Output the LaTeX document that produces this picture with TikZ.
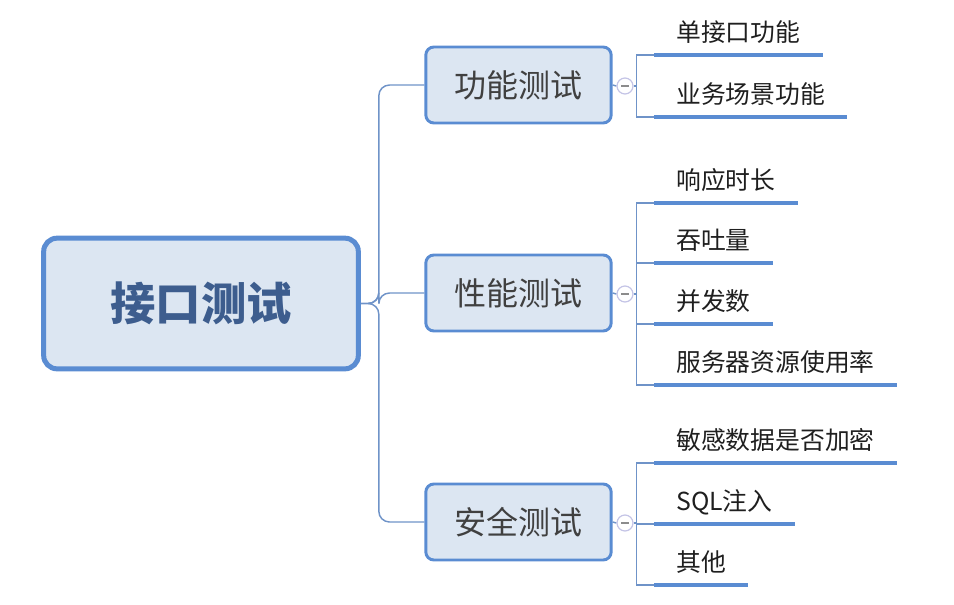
\documentclass[tikz,border=0pt]{standalone}
\usepackage{fontspec}
\setmainfont{Noto Sans CJK SC}
\usepackage{tikz}
\pgfdeclarelayer{edgelayer}
\pgfdeclarelayer{nodelayer}
\pgfsetlayers{edgelayer,nodelayer,main}
\definecolor{boxfill}{HTML}{DCE6F2}
\definecolor{boxline}{HTML}{5A8CD2}
\definecolor{rootink}{HTML}{3D5D8E}
\definecolor{wire}{HTML}{6F93C8}
\definecolor{knob}{HTML}{C4C4E6}
\tikzstyle{none}=[inner sep=0pt]
\tikzstyle{root}=[draw=boxline,fill=boxfill,line width=3.75pt,rounded corners=10pt,minimum width=236pt,minimum height=98pt,font=\fontsize{34pt}{36pt}\selectfont\bfseries,text=rootink]
\tikzstyle{topic}=[draw=boxline,fill=boxfill,line width=2.2pt,rounded corners=6pt,minimum width=139pt,minimum height=57pt,font=\fontsize{24pt}{26pt}\selectfont,text=black!75]
\tikzstyle{knob}=[circle,draw=knob,fill=white,line width=0.9pt,minimum size=12pt,inner sep=0pt,path picture={\draw[black!45,line width=0.8pt] ([xshift=-3pt]path picture bounding box.center) -- ([xshift=3pt]path picture bounding box.center);}]
\tikzstyle{leaf}=[anchor=south west,inner xsep=16.5pt,inner ysep=6pt,text height=13pt,text depth=4pt,font=\fontsize{18.6pt}{20pt}\selectfont,text=black!88]
\tikzstyle{underline}=[draw=boxline,line width=3.2pt]
\tikzstyle{trunk}=[draw=wire,line width=1.1pt,rounded corners=8pt]
\tikzstyle{branch}=[draw=wire,line width=1.1pt]

\begin{document}
\begin{tikzpicture}[x=0.75pt,y=-0.75pt]
	\useasboundingbox (0,0) rectangle (954,604);
	\begin{pgfonlayer}{nodelayer}
		\node [style=root] (0) at (201, 303.5) {接口测试};
		\node [style=topic] (1) at (518.5, 85) {功能测试};
		\node [style=topic] (2) at (518.5, 293) {性能测试};
		\node [style=topic] (3) at (518.5, 522) {安全测试};
		\node [style=knob] (4) at (625, 86) {};
		\node [style=knob] (5) at (625, 294) {};
		\node [style=knob] (6) at (625, 523) {};
		\node [style=leaf] (7) at (654, 55) {单接口功能};
		\node [style=leaf] (8) at (654, 117) {业务场景功能};
		\node [style=leaf] (9) at (654, 203) {响应时长};
		\node [style=leaf] (10) at (654, 263) {吞吐量};
		\node [style=leaf] (11) at (654, 324) {并发数};
		\node [style=leaf] (12) at (654, 385) {服务器资源使用率};
		\node [style=leaf] (13) at (654, 463) {敏感数据是否加密};
		\node [style=leaf] (14) at (654, 524) {SQL注入};
		\node [style=leaf] (15) at (654, 585) {其他};
	\end{pgfonlayer}
	\begin{pgfonlayer}{edgelayer}
		\draw [style=trunk] (0.east) -- ++(18,0) |- (1.west);
		\draw [style=trunk] (0.east) -- ++(18,0) |- (2.west);
		\draw [style=trunk] (0.east) -- ++(18,0) |- (3.west);
		\draw [style=branch] (1.east) to (4.west);
		\draw [style=branch] (2.east) to (5.west);
		\draw [style=branch] (3.east) to (6.west);
		\draw [style=branch] (4.east) -- ++(3,0) |- (7.south west);
		\draw [style=branch] (4.east) -- ++(3,0) |- (8.south west);
		\draw [style=branch] (5.east) -- ++(3,0) |- (9.south west);
		\draw [style=branch] (5.east) -- ++(3,0) |- (10.south west);
		\draw [style=branch] (5.east) -- ++(3,0) |- (11.south west);
		\draw [style=branch] (5.east) -- ++(3,0) |- (12.south west);
		\draw [style=branch] (6.east) -- ++(3,0) |- (13.south west);
		\draw [style=branch] (6.east) -- ++(3,0) |- (14.south west);
		\draw [style=branch] (6.east) -- ++(3,0) |- (15.south west);
		\draw [style=underline] (7.south west) to (7.south east);
		\draw [style=underline] (8.south west) to (8.south east);
		\draw [style=underline] (9.south west) to (9.south east);
		\draw [style=underline] (10.south west) to (10.south east);
		\draw [style=underline] (11.south west) to (11.south east);
		\draw [style=underline] (12.south west) to (12.south east);
		\draw [style=underline] (13.south west) to (13.south east);
		\draw [style=underline] (14.south west) to (14.south east);
		\draw [style=underline] (15.south west) to (15.south east);
	\end{pgfonlayer}
\end{tikzpicture}
\end{document}
